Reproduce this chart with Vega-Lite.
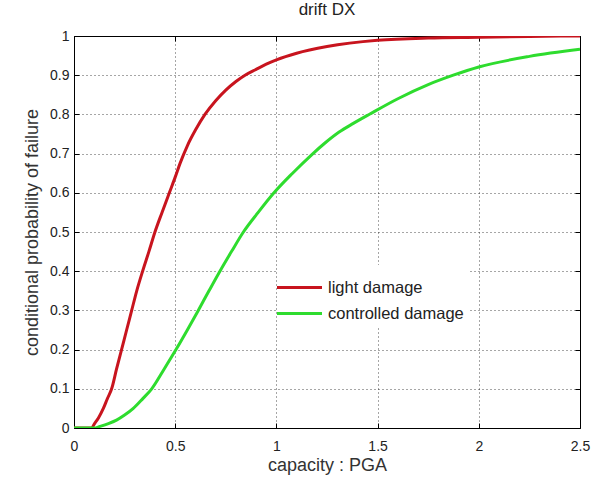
{
  "$schema": "https://vega.github.io/schema/vega-lite/v6.json",
  "width": 506,
  "height": 392,
  "autosize": {"type": "none"},
  "padding": {"left": 74, "top": 36, "right": 13, "bottom": 50},
  "background": "white",
  "title": {"text": "drift DX", "fontSize": 17, "fontWeight": "normal", "font": "Liberation Sans", "color": "#222", "offset": 10},
  "config": {
    "font": "Liberation Sans",
    "view": {"stroke": "black", "strokeWidth": 1},
    "axis": {"labelFont": "Liberation Sans", "titleFont": "Liberation Sans", "labelColor": "#222", "titleColor": "#333", "titleFontWeight": "normal", "labelFontSize": 14, "titleFontSize": 18, "domain": false, "tickColor": "black", "gridColor": "black", "gridDash": [1, 3], "gridOpacity": 0.7}
  },
  "datasets": {
    "curves": [
      {"x": 0, "p": 0, "s": "light damage"},
      {"x": 0.087, "p": 0, "s": "light damage"},
      {"x": 0.1, "p": 0.01, "s": "light damage"},
      {"x": 0.12, "p": 0.025, "s": "light damage"},
      {"x": 0.145, "p": 0.05, "s": "light damage"},
      {"x": 0.165, "p": 0.075, "s": "light damage"},
      {"x": 0.186, "p": 0.1, "s": "light damage"},
      {"x": 0.21, "p": 0.15, "s": "light damage"},
      {"x": 0.235, "p": 0.2, "s": "light damage"},
      {"x": 0.26, "p": 0.25, "s": "light damage"},
      {"x": 0.285, "p": 0.3, "s": "light damage"},
      {"x": 0.31, "p": 0.35, "s": "light damage"},
      {"x": 0.339, "p": 0.4, "s": "light damage"},
      {"x": 0.37, "p": 0.45, "s": "light damage"},
      {"x": 0.4, "p": 0.5, "s": "light damage"},
      {"x": 0.435, "p": 0.55, "s": "light damage"},
      {"x": 0.471, "p": 0.6, "s": "light damage"},
      {"x": 0.5, "p": 0.64, "s": "light damage"},
      {"x": 0.524, "p": 0.675, "s": "light damage"},
      {"x": 0.56, "p": 0.72, "s": "light damage"},
      {"x": 0.6, "p": 0.76, "s": "light damage"},
      {"x": 0.647, "p": 0.8, "s": "light damage"},
      {"x": 0.7, "p": 0.835, "s": "light damage"},
      {"x": 0.75, "p": 0.862, "s": "light damage"},
      {"x": 0.8, "p": 0.884, "s": "light damage"},
      {"x": 0.845, "p": 0.9, "s": "light damage"},
      {"x": 0.9, "p": 0.915, "s": "light damage"},
      {"x": 0.95, "p": 0.928, "s": "light damage"},
      {"x": 1.0, "p": 0.939, "s": "light damage"},
      {"x": 1.1, "p": 0.956, "s": "light damage"},
      {"x": 1.25, "p": 0.973, "s": "light damage"},
      {"x": 1.5, "p": 0.989, "s": "light damage"},
      {"x": 1.75, "p": 0.995, "s": "light damage"},
      {"x": 2.0, "p": 0.997, "s": "light damage"},
      {"x": 2.25, "p": 0.999, "s": "light damage"},
      {"x": 2.5, "p": 1.0, "s": "light damage"},
      {"x": 0, "p": 0, "s": "controlled damage"},
      {"x": 0.1, "p": 0, "s": "controlled damage"},
      {"x": 0.128, "p": 0.004, "s": "controlled damage"},
      {"x": 0.17, "p": 0.011, "s": "controlled damage"},
      {"x": 0.21, "p": 0.02, "s": "controlled damage"},
      {"x": 0.25, "p": 0.033, "s": "controlled damage"},
      {"x": 0.293, "p": 0.05, "s": "controlled damage"},
      {"x": 0.34, "p": 0.075, "s": "controlled damage"},
      {"x": 0.384, "p": 0.1, "s": "controlled damage"},
      {"x": 0.445, "p": 0.15, "s": "controlled damage"},
      {"x": 0.504, "p": 0.2, "s": "controlled damage"},
      {"x": 0.56, "p": 0.25, "s": "controlled damage"},
      {"x": 0.614, "p": 0.3, "s": "controlled damage"},
      {"x": 0.667, "p": 0.35, "s": "controlled damage"},
      {"x": 0.721, "p": 0.4, "s": "controlled damage"},
      {"x": 0.778, "p": 0.45, "s": "controlled damage"},
      {"x": 0.837, "p": 0.5, "s": "controlled damage"},
      {"x": 0.91, "p": 0.55, "s": "controlled damage"},
      {"x": 0.988, "p": 0.6, "s": "controlled damage"},
      {"x": 1.08, "p": 0.65, "s": "controlled damage"},
      {"x": 1.174, "p": 0.697, "s": "controlled damage"},
      {"x": 1.24, "p": 0.727, "s": "controlled damage"},
      {"x": 1.31, "p": 0.755, "s": "controlled damage"},
      {"x": 1.38, "p": 0.777, "s": "controlled damage"},
      {"x": 1.462, "p": 0.801, "s": "controlled damage"},
      {"x": 1.6, "p": 0.84, "s": "controlled damage"},
      {"x": 1.75, "p": 0.876, "s": "controlled damage"},
      {"x": 1.874, "p": 0.9, "s": "controlled damage"},
      {"x": 2.0, "p": 0.921, "s": "controlled damage"},
      {"x": 2.25, "p": 0.948, "s": "controlled damage"},
      {"x": 2.5, "p": 0.966, "s": "controlled damage"}
    ]
  },
  "data": {"name": "curves"},
  "resolve": {"axis": {"x": "independent", "y": "independent"}},
  "layer": [
    {
      "mark": {"type": "line", "strokeWidth": 3, "interpolate": "monotone", "clip": true},
      "encoding": {
        "x": {"field": "x", "type": "quantitative", "scale": {"domain": [0, 2.5], "nice": false, "zero": false},
          "axis": {"values": [0, 0.5, 1, 1.5, 2, 2.5], "format": "~g", "title": "capacity : PGA", "tickSize": -5, "labelPadding": 16, "titlePadding": 3, "labelFlush": false}},
        "y": {"field": "p", "type": "quantitative", "scale": {"domain": [0, 1], "nice": false},
          "axis": {"values": [0, 0.1, 0.2, 0.3, 0.4, 0.5, 0.6, 0.7, 0.8, 0.9, 1], "format": "~g", "title": "conditional probability of failure", "tickSize": -5, "labelPadding": 10, "titlePadding": 8, "labelFlush": false}},
        "color": {"field": "s", "type": "nominal",
          "scale": {"domain": ["light damage", "controlled damage"], "range": ["#c8141e", "#2edc2e"]},
          "legend": {"title": null, "orient": "none", "legendX": 203, "legendY": 229, "fillColor": "white", "padding": 6, "symbolType": "M-1.5,0H1.5", "symbolStrokeWidth": 3, "symbolSize": 900, "labelFontSize": 16.5, "labelColor": "#222", "rowPadding": 1, "labelOffset": 12}}
      }
    },
    {
      "mark": {"type": "line", "opacity": 0},
      "encoding": {
        "x": {"field": "x", "type": "quantitative", "axis": {"orient": "top", "values": [0, 0.5, 1, 1.5, 2, 2.5], "labels": false, "title": null, "grid": false, "tickSize": -5}},
        "y": {"field": "p", "type": "quantitative", "axis": {"orient": "right", "values": [0, 0.1, 0.2, 0.3, 0.4, 0.5, 0.6, 0.7, 0.8, 0.9, 1], "labels": false, "title": null, "grid": false, "tickSize": -5}}
      }
    }
  ]
}
